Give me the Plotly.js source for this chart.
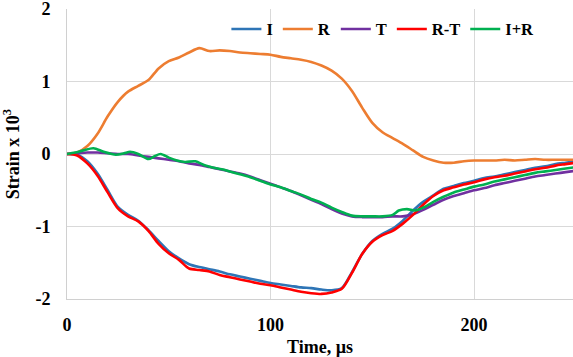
<!DOCTYPE html>
<html>
<head>
<meta charset="utf-8">
<script src="https://cdn.plot.ly/plotly-3.0.1.min.js"></script>
<style>
  html, body { margin: 0; padding: 0; background: #ffffff; }
  #chart { width: 573px; height: 357px; }
</style>
</head>
<body>
<div id="chart"></div>
<script>
// Time base (µs) shared by the I, R, T and R-T signals
const time = [0,5,10,15,20,25,30,35,40,45,50,55,60,65,70,75,80,85,90,95,100,
  105,110,115,120,125,130,135,140,145,150,155,160,165,170,175,180,185,190,195,200,
  205,210,215,220,225,230,235,240,245,250];

// Incident pulse
const incident = [0,-0.01,-0.10,-0.27,-0.50,-0.73,-0.84,-0.92,-1.05,-1.20,-1.34,
  -1.44,-1.52,-1.56,-1.59,-1.62,-1.66,-1.69,-1.72,-1.75,-1.78,
  -1.80,-1.82,-1.84,-1.85,-1.87,-1.88,-1.85,-1.63,-1.38,-1.20,
  -1.10,-1.03,-0.92,-0.78,-0.66,-0.57,-0.48,-0.44,-0.40,-0.37,
  -0.33,-0.31,-0.28,-0.25,-0.22,-0.19,-0.17,-0.14,-0.12,-0.10];

// Reflected pulse
const reflected = [0,0.02,0.11,0.28,0.52,0.72,0.86,0.94,1.02,1.18,1.28,
  1.33,1.40,1.46,1.42,1.43,1.42,1.40,1.39,1.38,1.37,
  1.34,1.32,1.30,1.27,1.22,1.15,1.04,0.87,0.64,0.43,
  0.30,0.22,0.14,0.05,-0.04,-0.09,-0.12,-0.12,-0.10,-0.09,
  -0.09,-0.09,-0.08,-0.09,-0.08,-0.07,-0.08,-0.08,-0.08,-0.08];

// Transmitted pulse
const transmitted = [0,0.01,0.02,0.02,0.01,0.00,0.00,-0.02,-0.04,-0.06,-0.08,
  -0.10,-0.13,-0.15,-0.18,-0.21,-0.24,-0.27,-0.31,-0.36,-0.41,
  -0.46,-0.51,-0.57,-0.63,-0.69,-0.76,-0.82,-0.86,-0.87,-0.87,
  -0.87,-0.86,-0.86,-0.83,-0.77,-0.70,-0.63,-0.58,-0.54,-0.50,
  -0.47,-0.43,-0.40,-0.37,-0.34,-0.31,-0.29,-0.27,-0.25,-0.23];

// Reflected minus transmitted
const reflMinusTrans = [0,-0.02,-0.13,-0.30,-0.53,-0.75,-0.86,-0.93,-1.06,-1.24,-1.37,
  -1.46,-1.58,-1.60,-1.62,-1.67,-1.70,-1.73,-1.76,-1.79,-1.81,
  -1.84,-1.87,-1.90,-1.92,-1.93,-1.91,-1.86,-1.64,-1.38,-1.21,
  -1.12,-1.06,-0.96,-0.84,-0.70,-0.58,-0.50,-0.46,-0.42,-0.39,
  -0.35,-0.32,-0.30,-0.27,-0.24,-0.21,-0.19,-0.16,-0.14,-0.12];

// Incident plus reflected, sampled more densely where it oscillates
const timeSum = [0,4,8,13,18,24,28,31,35,40,43,46,50,54,58,63,68,72,76,80,85,90,95,100,
  105,110,115,120,125,130,135,140,145,150,155,160,163,167,171,175,180,185,190,195,200,
  205,210,215,220,225,230,235,240,245,250];
const incPlusRefl = [0,0.02,0.05,0.08,0.03,-0.01,0.01,0.03,0.00,-0.07,-0.03,0.00,-0.05,-0.09,-0.11,-0.10,-0.16,-0.19,-0.21,-0.24,-0.28,-0.32,-0.37,-0.42,
  -0.46,-0.51,-0.56,-0.62,-0.67,-0.74,-0.80,-0.85,-0.86,-0.86,-0.86,-0.84,-0.78,-0.76,-0.78,-0.74,-0.66,-0.59,-0.53,-0.49,-0.45,
  -0.42,-0.38,-0.35,-0.32,-0.29,-0.26,-0.24,-0.22,-0.20,-0.18];

const seriesNames = ['I', 'R', 'T', 'R-T', 'I+R'];
const seriesColors = ['#2E75B6', '#ED7D31', '#7030A0', '#FF0000', '#00B050'];

const yTickVals = [-2, -1, 0, 1, 2];
const yTickText = ['-2', '-1', '0', '1', '2'];
const xTickVals = [0, 100, 200];

const serif = 'Liberation Serif, Times New Roman, serif';

function lineTrace(x, y, i) {
  return {
    x: x, y: y, name: seriesNames[i], type: 'scatter', mode: 'lines',
    line: { color: seriesColors[i], width: 2.6, shape: 'spline', smoothing: 0.8 }
  };
}

const traces = [
  lineTrace(time, incident, 0),
  lineTrace(time, reflected, 1),
  lineTrace(time, transmitted, 2),
  lineTrace(time, reflMinusTrans, 3),
  lineTrace(timeSum, incPlusRefl, 4)
];

const tickFont = { family: serif, size: 18, weight: 'bold', color: '#000' };
const titleFont = { family: serif, size: 18, weight: 'bold', color: '#000' };

const layout = {
  width: 573, height: 357,
  margin: { l: 67, r: 0, t: 9, b: 58 },
  paper_bgcolor: '#ffffff', plot_bgcolor: '#ffffff',
  font: { family: serif, color: '#000000' },
  showlegend: true,
  legend: {
    orientation: 'h', x: 0.315, y: 0.93, xanchor: 'left', yanchor: 'middle',
    font: { family: serif, size: 16.5, weight: 'bold', color: '#000' },
    bgcolor: 'rgba(0,0,0,0)', itemwidth: 30, tracegroupgap: 0
  },
  xaxis: {
    range: [0, 248.6], tickvals: xTickVals, ticks: '',
    showgrid: true, gridcolor: '#d9d9d9', gridwidth: 1,
    zeroline: false, showline: true, linecolor: '#d0d0d0', linewidth: 1,
    tickfont: tickFont, ticklabelstandoff: 9, ticklabeloverflow: 'allow',
    title: { text: 'Time, µs', standoff: 6, font: titleFont }
  },
  yaxis: {
    range: [-2, 2], tickvals: yTickVals, ticktext: yTickText, ticks: '',
    showgrid: true, gridcolor: '#d9d9d9', gridwidth: 1,
    zeroline: false, showline: true, linecolor: '#d0d0d0', linewidth: 1,
    tickfont: tickFont, ticklabelstandoff: 12, ticklabeloverflow: 'allow',
    title: { text: 'Strain x 10<sup>3</sup>', standoff: 12, font: titleFont }
  }
};

Plotly.newPlot('chart', traces, layout, { staticPlot: true, displayModeBar: false });
</script>
</body>
</html>
